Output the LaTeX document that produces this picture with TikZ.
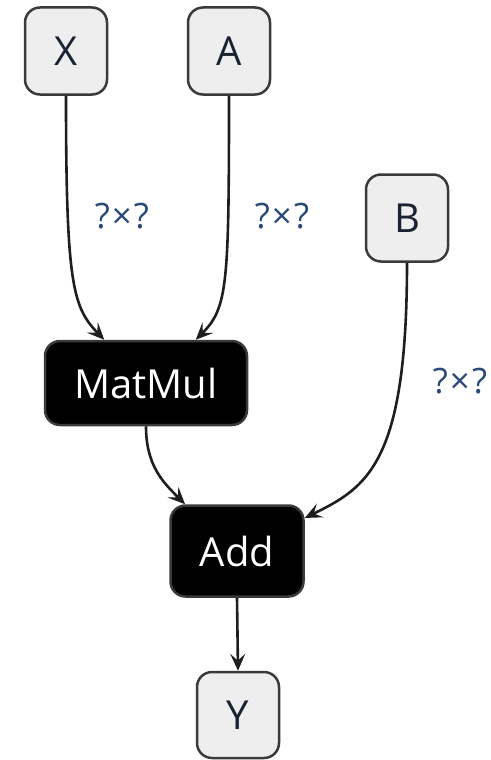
\documentclass[tikz,border=0pt]{standalone}
\usepackage{fontspec}
\setmainfont{Open Sans}
\usetikzlibrary{arrows.meta}
\definecolor{boxfill}{HTML}{EEEEEE}
\definecolor{boxline}{HTML}{3A3A3A}
\definecolor{edgecol}{HTML}{1E1E1E}
\definecolor{lblcol}{HTML}{2A4A78}
\definecolor{txtcol}{HTML}{1A2233}
\tikzset{
  iobox/.style={draw=boxline, fill=boxfill, line width=2.5pt, rounded corners=15pt,
    minimum width=82pt, minimum height=87pt, inner sep=0pt, text=txtcol,
    font=\fontsize{40}{46}\selectfont},
  opbox/.style={draw=boxline, fill=black, line width=2.5pt, rounded corners=15pt,
    minimum height=84pt, inner sep=0pt, text=white,
    font=\fontsize{40}{46}\selectfont},
  edge/.style={draw=edgecol, line width=2.6pt, -{Stealth[length=17pt,width=15pt,inset=7pt]}},
  lbl/.style={text=lblcol, font=\fontsize{35}{40}\selectfont, inner sep=0pt}
}
\newcommand{\qxq}{?\kern2pt×\kern2pt?}
\begin{document}
\begin{tikzpicture}[x=1pt,y=-1pt]
\useasboundingbox (0,0) rectangle (490,760);
\node[iobox] (X) at (66,51) {X};
\node[iobox] (A) at (229,51) {A};
\node[iobox] (B) at (407,218) {B};
\node[opbox, minimum width=202pt] (MM) at (146,383) {MatMul};
\node[opbox, minimum width=133pt, minimum height=91pt] (Add) at (237,551) {Add};
\node[iobox, minimum height=86pt] (Y) at (238,715) {Y};
\draw[edge] (X.south) to[out=-90,in=134,out distance=190pt,in distance=45pt] (MM.134);
\draw[edge] (A.south) to[out=-90,in=45,out distance=190pt,in distance=45pt] (MM.41);
\draw[edge] (B.south) to[out=-90,in=26,out distance=200pt,in distance=70pt] (Add.26);
\draw[edge] (MM.south) to[out=-90,in=135,out distance=40pt,in distance=30pt] (Add.138);
\draw[edge] (Add.south) -- (Y.north);
\node[lbl] (L1) at (122,216) {\qxq};
\node[lbl] (L2) at (282,216) {\qxq};
\node[lbl] (L3) at (460,381) {\qxq};
\end{tikzpicture}
\end{document}
